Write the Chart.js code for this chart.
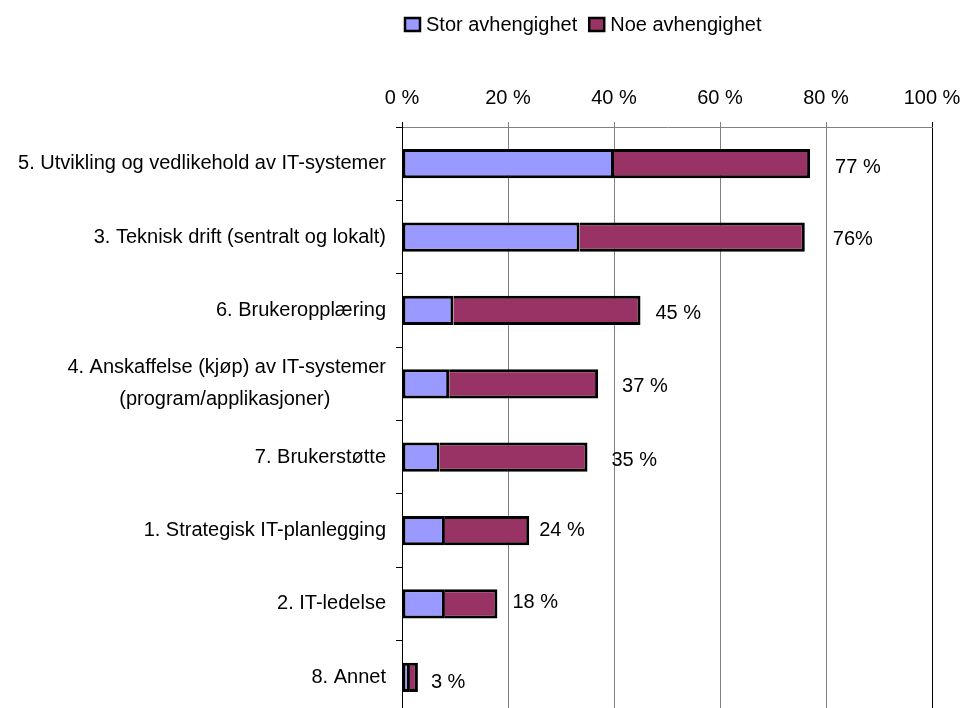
<!DOCTYPE html>
<html>
<head>
<meta charset="utf-8">
<title>Avhengighet</title>
<script src="https://cdn.jsdelivr.net/npm/chart.js@4.4.0/dist/chart.umd.min.js"></script>
<style>
html, body { margin: 0; padding: 0; background: #fff; overflow: hidden; }
#wrap { width: 963px; height: 708px; overflow: hidden; }
</style>
</head>
<body>
<div id="wrap"><canvas id="myChart" width="963" height="716"></canvas></div>
<script>
// kategorier (second line of no. 4 padded so it sits centred under the first)
const categories = [
  '5. Utvikling og vedlikehold av IT-systemer',
  '3. Teknisk drift (sentralt og lokalt)',
  '6. Brukeropplæring',
  ['4. Anskaffelse (kjøp) av IT-systemer', '(program/applikasjoner)          '],
  '7. Brukerstøtte',
  '1. Strategisk IT-planlegging',
  '2. IT-ledelse',
  '8. Annet'
];
const storValues = [40, 33.5, 9.7, 8.9, 7.1, 8.1, 8.1, 1.5];
const noeValues = [37, 42.5, 35.3, 28.1, 27.9, 15.9, 9.9, 1.5];
const totalLabels = ['77 %', '76%', '45 %', '37 %', '35 %', '24 %', '18 %', '3 %'];
const xTicks = [0, 20, 40, 60, 80, 100];

const FONT = '"Liberation Sans", Arial, sans-serif';
Chart.defaults.font.family = FONT;
Chart.defaults.font.size = 20;
Chart.defaults.color = '#000';

// legend drawn by hand so it can sit off-centre like the old one
const legendBoxes = {
  id: 'legendBoxes',
  afterDraw(chart, args, opts) {
    const c = chart.ctx;
    c.save();
    c.font = '20px ' + FONT;
    c.textBaseline = 'middle';
    let x = opts.x;
    chart.data.datasets.forEach(ds => {
      c.fillStyle = ds.backgroundColor;
      c.fillRect(x, opts.y, 15, 13);
      c.lineWidth = 2.5;
      c.strokeStyle = '#000';
      c.strokeRect(x, opts.y, 15, 13);
      c.fillStyle = '#000';
      c.fillText(ds.label, x + 21, opts.y + 7);
      x += 21 + c.measureText(ds.label).width + 12;
    });
    c.restore();
  }
};

// total % written to the right of each bar
const totalText = {
  id: 'totalText',
  afterDatasetsDraw(chart, args, opts) {
    const c = chart.ctx;
    const meta = chart.getDatasetMeta(chart.data.datasets.length - 1);
    c.save();
    c.font = '20px ' + FONT;
    c.fillStyle = '#000';
    c.textAlign = 'left';
    c.textBaseline = 'middle';
    meta.data.forEach((bar, i) => {
      c.fillText(totalLabels[i], bar.x + opts.dx[i], bar.y + opts.dy[i]);
    });
    c.restore();
  }
};

const ctx = document.getElementById('myChart');
const myChart = new Chart(ctx, {
  type: 'bar',
  data: {
    labels: categories,
    datasets: [{
      label: 'Stor avhengighet',
      data: storValues,
      backgroundColor: '#9999FF',
      borderColor: '#000',
      borderWidth: 3,
      borderSkipped: false,
      barPercentage: 0.4,
      categoryPercentage: 1
    }, {
      label: 'Noe avhengighet',
      data: noeValues,
      backgroundColor: '#993366',
      borderColor: '#000',
      borderWidth: 3,
      borderSkipped: 'start',   // shares the divider with the first segment
      barPercentage: 0.4,
      categoryPercentage: 1
    }]
  },
  options: {
    indexAxis: 'y',
    responsive: false,
    animation: false,
    devicePixelRatio: 1,
    layout: { padding: { left: 0, top: 0, right: 31, bottom: 2 } },
    scales: {
      x: {
        position: 'top',
        stacked: true,
        min: 0,
        max: 100,
        afterBuildTicks: scale => { scale.ticks = xTicks.map(v => ({ value: v })); },
        afterFit: scale => {
          scale.height = 127;
          scale.paddingLeft = 0;
          scale.paddingRight = 0;
        },
        ticks: {
          padding: 12,
          maxRotation: 0,
          callback: v => v + ' %'
        },
        grid: {
          color: c => (c.tick && (c.tick.value === 100 || c.tick.value === 0)) ? '#000' : '#808080',
          tickLength: 5
        },
        border: { color: '#808080' }
      },
      y: {
        stacked: true,
        afterFit: scale => {
          scale.width = 402;
          scale.paddingTop = 0;
          scale.paddingBottom = 0;
        },
        ticks: {
          padding: 10,
          font: { size: 20, lineHeight: 1.6 }
        },
        grid: {
          offset: true,
          drawOnChartArea: false,
          tickLength: 6,
          color: '#000'
        },
        border: { color: '#000' }
      }
    },
    plugins: {
      legend: { display: false },
      tooltip: { enabled: false },
      legendBoxes: { x: 405, y: 18 },
      totalText: {
        dx: [25, 28, 15, 24, 24, 10, 15, 13],
        dy: [4, 2, 3, 3, 3, 0, -1, 5]
      }
    }
  },
  plugins: [legendBoxes, totalText]
});
</script>
</body>
</html>
